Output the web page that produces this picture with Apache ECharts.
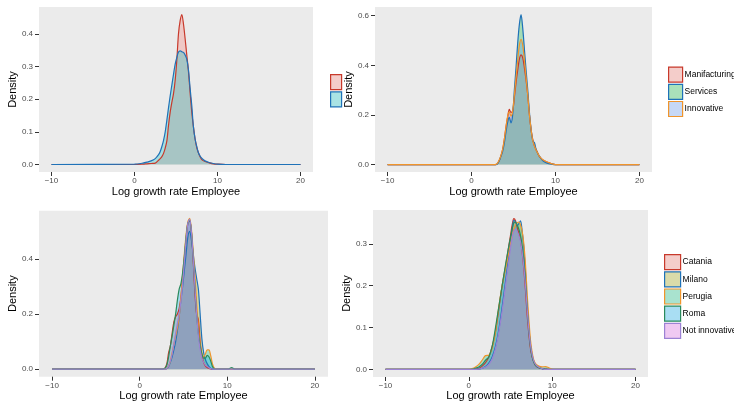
<!DOCTYPE html>
<html>
<head>
<meta charset="utf-8">
<script src="https://cdn.jsdelivr.net/npm/echarts@6/dist/echarts.min.js"></script>
<style>
html,body{margin:0;padding:0;background:#fff;}
#chart{width:734px;height:403px;}
</style>
</head>
<body>
<div id="chart"></div>
<script>
// ---------- data ----------
const X_TICKS = [-10, 0, 10, 20];
const Y_TICKS_1 = [0, 0.1, 0.2, 0.3, 0.4];
const Y_TICKS_2 = [0, 0.2, 0.4, 0.6];
const Y_TICKS_3 = [0, 0.2, 0.4];
const Y_TICKS_4 = [0, 0.1, 0.2, 0.3];

// Panel 1 (top-left)
const P1_X = [-10, 0, 1, 1.5, 2, 2.5, 2.9, 3.1, 3.3, 3.5, 3.7, 3.9, 4.1, 4.3, 4.5, 4.7, 4.9, 5.1, 5.3, 5.5, 5.7, 5.9, 6.1, 6.3, 6.5, 6.7, 6.9, 7.1, 7.3, 7.5, 7.7, 7.9, 8.1, 8.5, 9, 9.5, 10, 11, 20];
const P1_NAMES = ['Group 1', 'Group 2'];
const P1_A = [0, 0, 0.001, 0.002, 0.003, 0.004, 0.013, 0.018, 0.024, 0.034, 0.05, 0.072, 0.12, 0.16, 0.19, 0.217, 0.258, 0.32, 0.40, 0.44, 0.459, 0.43, 0.385, 0.335, 0.285, 0.22, 0.16, 0.115, 0.078, 0.052, 0.036, 0.024, 0.015, 0.009, 0.005, 0.002, 0.001, 0, 0];
const P1_B = [0, 0.001, 0.004, 0.007, 0.011, 0.018, 0.03, 0.04, 0.055, 0.074, 0.1, 0.136, 0.174, 0.21, 0.243, 0.276, 0.307, 0.328, 0.344, 0.348, 0.345, 0.343, 0.335, 0.322, 0.29, 0.233, 0.18, 0.115, 0.078, 0.055, 0.036, 0.026, 0.019, 0.011, 0.006, 0.003, 0.001, 0, 0];

// Panel 2 (top-right)
const P2_X = [-10, 2.5, 2.9, 3.1, 3.3, 3.5, 3.7, 3.9, 4.1, 4.3, 4.5, 4.7, 4.9, 5.1, 5.3, 5.5, 5.7, 5.9, 6.1, 6.3, 6.5, 6.7, 6.9, 7.1, 7.3, 7.5, 7.7, 7.9, 8.1, 8.5, 9, 9.5, 10, 20];
const P2_NAMES = ['Manifacturing', 'Services', 'Innovative'];
const P2_MANIF = [0, 0, 0, 0.005, 0.016, 0.035, 0.06, 0.1, 0.15, 0.19, 0.222, 0.21, 0.215, 0.27, 0.33, 0.38, 0.425, 0.442, 0.43, 0.39, 0.34, 0.28, 0.2, 0.14, 0.1, 0.075, 0.06, 0.045, 0.032, 0.018, 0.01, 0.004, 0, 0];
const P2_SERV = [0, 0, 0, 0.003, 0.015, 0.033, 0.052, 0.085, 0.13, 0.17, 0.19, 0.168, 0.2, 0.3, 0.39, 0.49, 0.565, 0.604, 0.55, 0.465, 0.38, 0.3, 0.21, 0.14, 0.095, 0.088, 0.06, 0.045, 0.033, 0.015, 0.006, 0.002, 0, 0];
const P2_INNOV = [0, 0, 0.001, 0.006, 0.018, 0.036, 0.06, 0.1, 0.15, 0.195, 0.212, 0.195, 0.215, 0.28, 0.35, 0.42, 0.48, 0.505, 0.48, 0.42, 0.35, 0.28, 0.2, 0.14, 0.095, 0.075, 0.058, 0.045, 0.033, 0.019, 0.01, 0.004, 0, 0];

// Panel 3 (bottom-left)
const P3_X = [-10, 2.5, 2.7, 2.9, 3.1, 3.3, 3.5, 3.7, 3.9, 4.1, 4.3, 4.5, 4.7, 4.9, 5.1, 5.3, 5.5, 5.7, 5.9, 6.1, 6.3, 6.5, 6.7, 6.9, 7.1, 7.3, 7.5, 7.7, 7.9, 8.1, 8.3, 8.5, 8.7, 8.9, 9.5, 10.1, 10.3, 10.5, 10.7, 11, 20];
const CITY_NAMES = ['Catania', 'Milano', 'Perugia', 'Roma', 'Not innovative'];
const P3_CATANIA = [0, 0, 0.001, 0.005, 0.02, 0.06, 0.085, 0.13, 0.172, 0.19, 0.2, 0.22, 0.26, 0.33, 0.40, 0.47, 0.53, 0.54, 0.5, 0.4, 0.28, 0.2, 0.18, 0.1, 0.05, 0.025, 0.012, 0.006, 0.003, 0.001, 0, 0, 0, 0, 0, 0, 0, 0, 0, 0, 0];
const P3_MILANO = [0, 0, 0, 0, 0.002, 0.01, 0.025, 0.045, 0.07, 0.1, 0.14, 0.19, 0.25, 0.3, 0.36, 0.42, 0.48, 0.5, 0.47, 0.42, 0.37, 0.33, 0.29, 0.2, 0.11, 0.06, 0.035, 0.02, 0.01, 0.003, 0, 0, 0, 0, 0, 0, 0, 0, 0, 0, 0];
const P3_PERUGIA = [0, 0, 0, 0.001, 0.003, 0.012, 0.03, 0.06, 0.09, 0.12, 0.15, 0.19, 0.26, 0.34, 0.42, 0.49, 0.535, 0.548, 0.51, 0.43, 0.34, 0.24, 0.15, 0.09, 0.055, 0.045, 0.055, 0.07, 0.07, 0.05, 0.02, 0.005, 0, 0, 0, 0, 0, 0, 0, 0, 0];
const P3_ROMA = [0, 0, 0.001, 0.004, 0.015, 0.045, 0.085, 0.12, 0.16, 0.2, 0.25, 0.29, 0.31, 0.35, 0.41, 0.48, 0.53, 0.54, 0.5, 0.41, 0.3, 0.2, 0.13, 0.085, 0.055, 0.04, 0.04, 0.05, 0.045, 0.03, 0.01, 0.002, 0, 0, 0, 0, 0.003, 0.006, 0.002, 0, 0];
const P3_NOTINN = [0, 0, 0, 0, 0.003, 0.012, 0.03, 0.055, 0.09, 0.13, 0.165, 0.2, 0.245, 0.31, 0.39, 0.47, 0.53, 0.545, 0.5, 0.41, 0.3, 0.2, 0.12, 0.07, 0.04, 0.025, 0.015, 0.01, 0.005, 0.002, 0, 0, 0, 0, 0, 0, 0, 0, 0, 0, 0];

// Panel 4 (bottom-right)
const P4_X = [-10, 0, 0.4, 0.8, 1.2, 1.6, 2.0, 2.4, 2.8, 3.2, 3.6, 4.0, 4.4, 4.8, 5.0, 5.2, 5.4, 5.6, 5.8, 6.0, 6.2, 6.4, 6.6, 6.8, 7.0, 7.2, 7.4, 7.6, 7.8, 8.0, 8.4, 8.8, 9.2, 9.6, 10, 10.4, 20];
const P4_CATANIA = [0, 0, 0, 0.001, 0.003, 0.008, 0.016, 0.03, 0.055, 0.09, 0.145, 0.2, 0.245, 0.295, 0.32, 0.345, 0.36, 0.355, 0.34, 0.325, 0.31, 0.28, 0.24, 0.19, 0.13, 0.085, 0.05, 0.03, 0.018, 0.01, 0.004, 0.002, 0.001, 0, 0, 0, 0];
const P4_MILANO = [0, 0, 0, 0, 0.001, 0.003, 0.007, 0.015, 0.03, 0.055, 0.095, 0.15, 0.21, 0.27, 0.305, 0.335, 0.356, 0.352, 0.343, 0.348, 0.355, 0.33, 0.29, 0.23, 0.16, 0.1, 0.06, 0.035, 0.02, 0.012, 0.005, 0.002, 0, 0, 0, 0, 0];
const P4_PERUGIA = [0, 0, 0.002, 0.006, 0.012, 0.022, 0.033, 0.034, 0.05, 0.09, 0.15, 0.2, 0.24, 0.28, 0.3, 0.32, 0.335, 0.345, 0.35, 0.352, 0.345, 0.33, 0.3, 0.25, 0.18, 0.12, 0.07, 0.04, 0.022, 0.014, 0.008, 0.006, 0.007, 0.004, 0.001, 0, 0];
const P4_ROMA = [0, 0, 0.001, 0.003, 0.006, 0.012, 0.022, 0.03, 0.055, 0.1, 0.15, 0.2, 0.25, 0.295, 0.315, 0.335, 0.35, 0.352, 0.345, 0.335, 0.32, 0.295, 0.26, 0.21, 0.15, 0.095, 0.055, 0.03, 0.017, 0.01, 0.004, 0.002, 0.001, 0, 0, 0, 0];
const P4_NOTINN = [0, 0, 0, 0, 0.001, 0.003, 0.006, 0.012, 0.025, 0.05, 0.09, 0.14, 0.2, 0.26, 0.29, 0.315, 0.33, 0.335, 0.33, 0.32, 0.305, 0.28, 0.245, 0.2, 0.145, 0.095, 0.058, 0.035, 0.02, 0.012, 0.005, 0.002, 0, 0, 0, 0, 0];

// ---------- styles ----------
const FONT = '"Liberation Sans", Arial, Helvetica, sans-serif';
const LINE = { red: '#C8392B', blue: '#1F72B8', orange: '#F0952B', green: '#2A8A5C', purple: '#9C82D4' };
const FILL2 = ['#F8766D', '#00BFC4'];
const FILL3 = ['#F8766D', '#00BA38', '#619CFF'];
const FILL5 = ['#F8766D', '#A3A500', '#00BF7D', '#00B0F6', '#E76BF3'];
const KEY2 = ['#F4CDCA', '#A9E3E4'];
const KEY3 = ['#F4CDCA', '#A9E1BA', '#C6D8F6'];
const KEY5 = ['#F4CDCA', '#DADBA9', '#A9E3CF', '#A9DEF3', '#EFC9F2'];
const LINE2 = [LINE.red, LINE.blue];
const LINE3 = [LINE.red, LINE.blue, LINE.orange];
const LINE5 = [LINE.red, LINE.blue, LINE.orange, LINE.green, LINE.purple];

const grids = [
  { left: 39, top: 7, width: 274, height: 165 },
  { left: 375, top: 7, width: 277, height: 165 },
  { left: 39, top: 210.7, width: 289, height: 166 },
  { left: 373, top: 210, width: 275, height: 167 }
].map(g => Object.assign(g, { show: true, backgroundColor: '#EBEBEB', borderWidth: 0, containLabel: false }));

function xAxis(gi, nameGap) {
  return {
    gridIndex: gi, type: 'value', min: -11.5, max: 21.5, position: 'bottom',
    axisLine: { show: false, onZero: false }, splitLine: { show: false },
    axisTick: { show: true, length: 4, lineStyle: { color: '#333333', width: 1 }, customValues: X_TICKS },
    axisLabel: { customValues: X_TICKS, formatter: v => (v < 0 ? '\u2212' + Math.abs(v) : String(v)),
      fontSize: 8, color: '#4D4D4D', margin: 5, fontFamily: FONT },
    name: 'Log growth rate Employee', nameLocation: 'middle', nameGap: nameGap,
    nameTextStyle: { fontSize: 11, color: '#000', fontFamily: FONT }
  };
}
function yAxis(gi, min, max, ticks) {
  return {
    gridIndex: gi, type: 'value', min: min, max: max, position: 'left',
    axisLine: { show: false, onZero: false }, splitLine: { show: false },
    axisTick: { show: true, length: 4, lineStyle: { color: '#333333', width: 1 }, customValues: ticks },
    axisLabel: { customValues: ticks, formatter: v => v.toFixed(1), fontSize: 8, color: '#4D4D4D', margin: 6, fontFamily: FONT },
    name: 'Density', nameLocation: 'middle', nameRotate: 90, nameGap: 17,
    nameTextStyle: { fontSize: 11, color: '#000', fontFamily: FONT }
  };
}
function dens(name, gi, xs, ys, fill, line) {
  return {
    type: 'line', name: name, xAxisIndex: gi, yAxisIndex: gi,
    data: xs.map((x, i) => [x, ys[i]]),
    showSymbol: false, symbol: 'none', smooth: 0.3, silent: true,
    lineStyle: { color: line, width: 1.2 }, itemStyle: { color: line },
    areaStyle: { color: fill, opacity: 0.3 },
    emphasis: { disabled: true }
  };
}
function legendData(names, keys, lines) {
  return names.map((n, i) => ({ name: n, itemStyle: { color: keys[i], borderColor: lines[i], borderWidth: 1.2 } }));
}

const series = [];
[P1_A, P1_B].forEach((ys, i) => series.push(dens(P1_NAMES[i], 0, P1_X, ys, FILL2[i], LINE2[i])));
[P2_MANIF, P2_SERV, P2_INNOV].forEach((ys, i) => series.push(dens(P2_NAMES[i], 1, P2_X, ys, FILL3[i], LINE3[i])));
[P3_CATANIA, P3_MILANO, P3_PERUGIA, P3_ROMA, P3_NOTINN].forEach((ys, i) => series.push(dens(CITY_NAMES[i], 2, P3_X, ys, FILL5[i], LINE5[i])));
[P4_CATANIA, P4_MILANO, P4_PERUGIA, P4_ROMA, P4_NOTINN].forEach((ys, i) => series.push(dens(CITY_NAMES[i], 3, P4_X, ys, FILL5[i], LINE5[i])));

const legendCommon = { orient: 'vertical', icon: 'rect', itemHeight: 15, itemGap: 1, padding: 0, selectedMode: false,
  textStyle: { fontSize: 8.5, color: '#000', fontFamily: FONT, padding: [0, 0, 0, -3] } };

const option = {
  animation: false,
  grid: grids,
  xAxis: [xAxis(0, 14), xAxis(1, 14), xAxis(2, 12.5), xAxis(3, 12.5)],
  yAxis: [yAxis(0, -0.023, 0.482, Y_TICKS_1), yAxis(1, -0.030, 0.635, Y_TICKS_2), yAxis(2, -0.0274, 0.5754, Y_TICKS_3), yAxis(3, -0.018, 0.3807, Y_TICKS_4)],
  legend: [
    Object.assign({}, legendCommon, { left: 330, top: 74, itemWidth: 11, formatter: () => '', data: legendData(P1_NAMES, KEY2, LINE2) }),
    Object.assign({}, legendCommon, { left: 668, top: 66.5, itemWidth: 14, data: legendData(P2_NAMES, KEY3, LINE3) }),
    Object.assign({}, legendCommon, { left: 664, top: 254, itemWidth: 16, data: legendData(CITY_NAMES, KEY5, LINE5) })
  ],
  series: series
};

const chart = echarts.init(document.getElementById('chart'), null, { renderer: 'canvas' });
chart.setOption(option);
</script>
</body>
</html>
